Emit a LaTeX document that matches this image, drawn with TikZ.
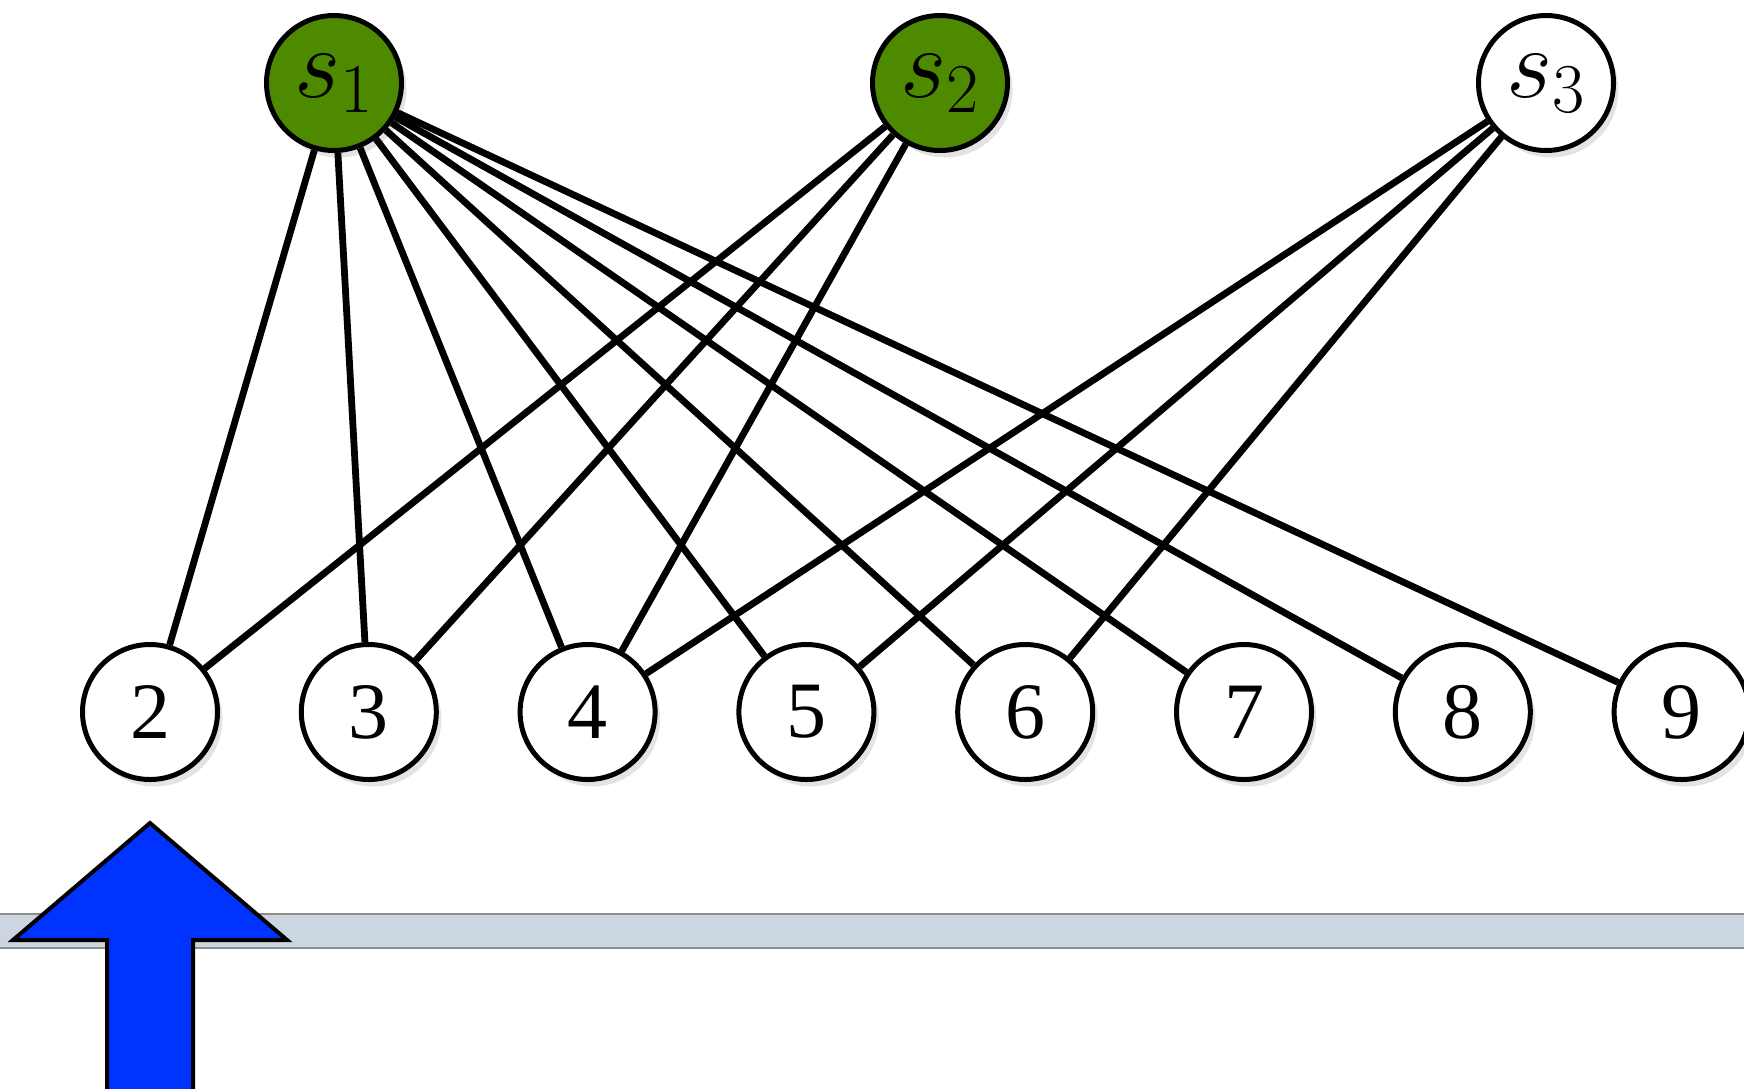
\RequirePackage{fix-cm}
\documentclass[tikz,border=0pt]{standalone}
\usepackage{fontspec}
\setmainfont{Liberation Serif}
\usepackage{xcolor}
\usepackage{tikz}
\usetikzlibrary{positioning, shadows}

\definecolor{setgreen}{RGB}{78,138,0}
\definecolor{barblue}{RGB}{203,214,224}
\definecolor{arrowblue}{RGB}{0,51,255}

\begin{document}
\begin{tikzpicture}[
    x=0.5pt, y=-0.5pt,
    node distance=109.4pt,
    item/.style={circle, draw, line width=2.5pt, fill=white, minimum size=67.5pt, inner sep=0pt,
        font=\fontsize{40}{40}\selectfont,
        drop shadow={shadow xshift=2.5pt, shadow yshift=-3.5pt, opacity=0.22}},
    set/.style={item, font=\fontsize{50}{50}\selectfont},
    chosen/.style={set, fill=setgreen},
    link/.style={line width=3.4pt}
]
\useasboundingbox (0,0) rectangle (1744,1088);

% Bar
\fill[barblue] (0,914) rectangle (1744,948);
\draw[black!45, line width=1pt] (0,914) -- (1744,914);
\draw[black!45, line width=1pt] (0,948) -- (1744,948);

% Pointer
\draw[fill=arrowblue, line width=2pt] (150,823) -- (287,940) -- (193,940) -- (193,1095)
    -- (107,1095) -- (107,940) -- (13,940) -- cycle;

% Sets
\node[chosen] (s1) at (334,83) {$s_1$};
\node[chosen, right of=s1, node distance=303pt] (s2) {$s_2$};
\node[set, right of=s2, node distance=303pt] (s3) {$s_3$};

% Elements
\node[item] (n2) at (150,712) {2};
\node[item, right of=n2] (n3) {3};
\node[item, right of=n3] (n4) {4};
\node[item, right of=n4] (n5) {5};
\node[item, right of=n5] (n6) {6};
\node[item, right of=n6] (n7) {7};
\node[item, right of=n7] (n8) {8};
\node[item, right of=n8] (n9) {9};

% Edges
\draw[link] (s1) -- (n2);
\draw[link] (s1) -- (n3);
\draw[link] (s1) -- (n4);
\draw[link] (s1) -- (n5);
\draw[link] (s1) -- (n6);
\draw[link] (s1) -- (n7);
\draw[link] (s1) -- (n8);
\draw[link] (s1) -- (n9);
\draw[link] (s2) -- (n2);
\draw[link] (s2) -- (n3);
\draw[link] (s2) -- (n4);
\draw[link] (s3) -- (n4);
\draw[link] (s3) -- (n5);
\draw[link] (s3) -- (n6);

\end{tikzpicture}
\end{document}
